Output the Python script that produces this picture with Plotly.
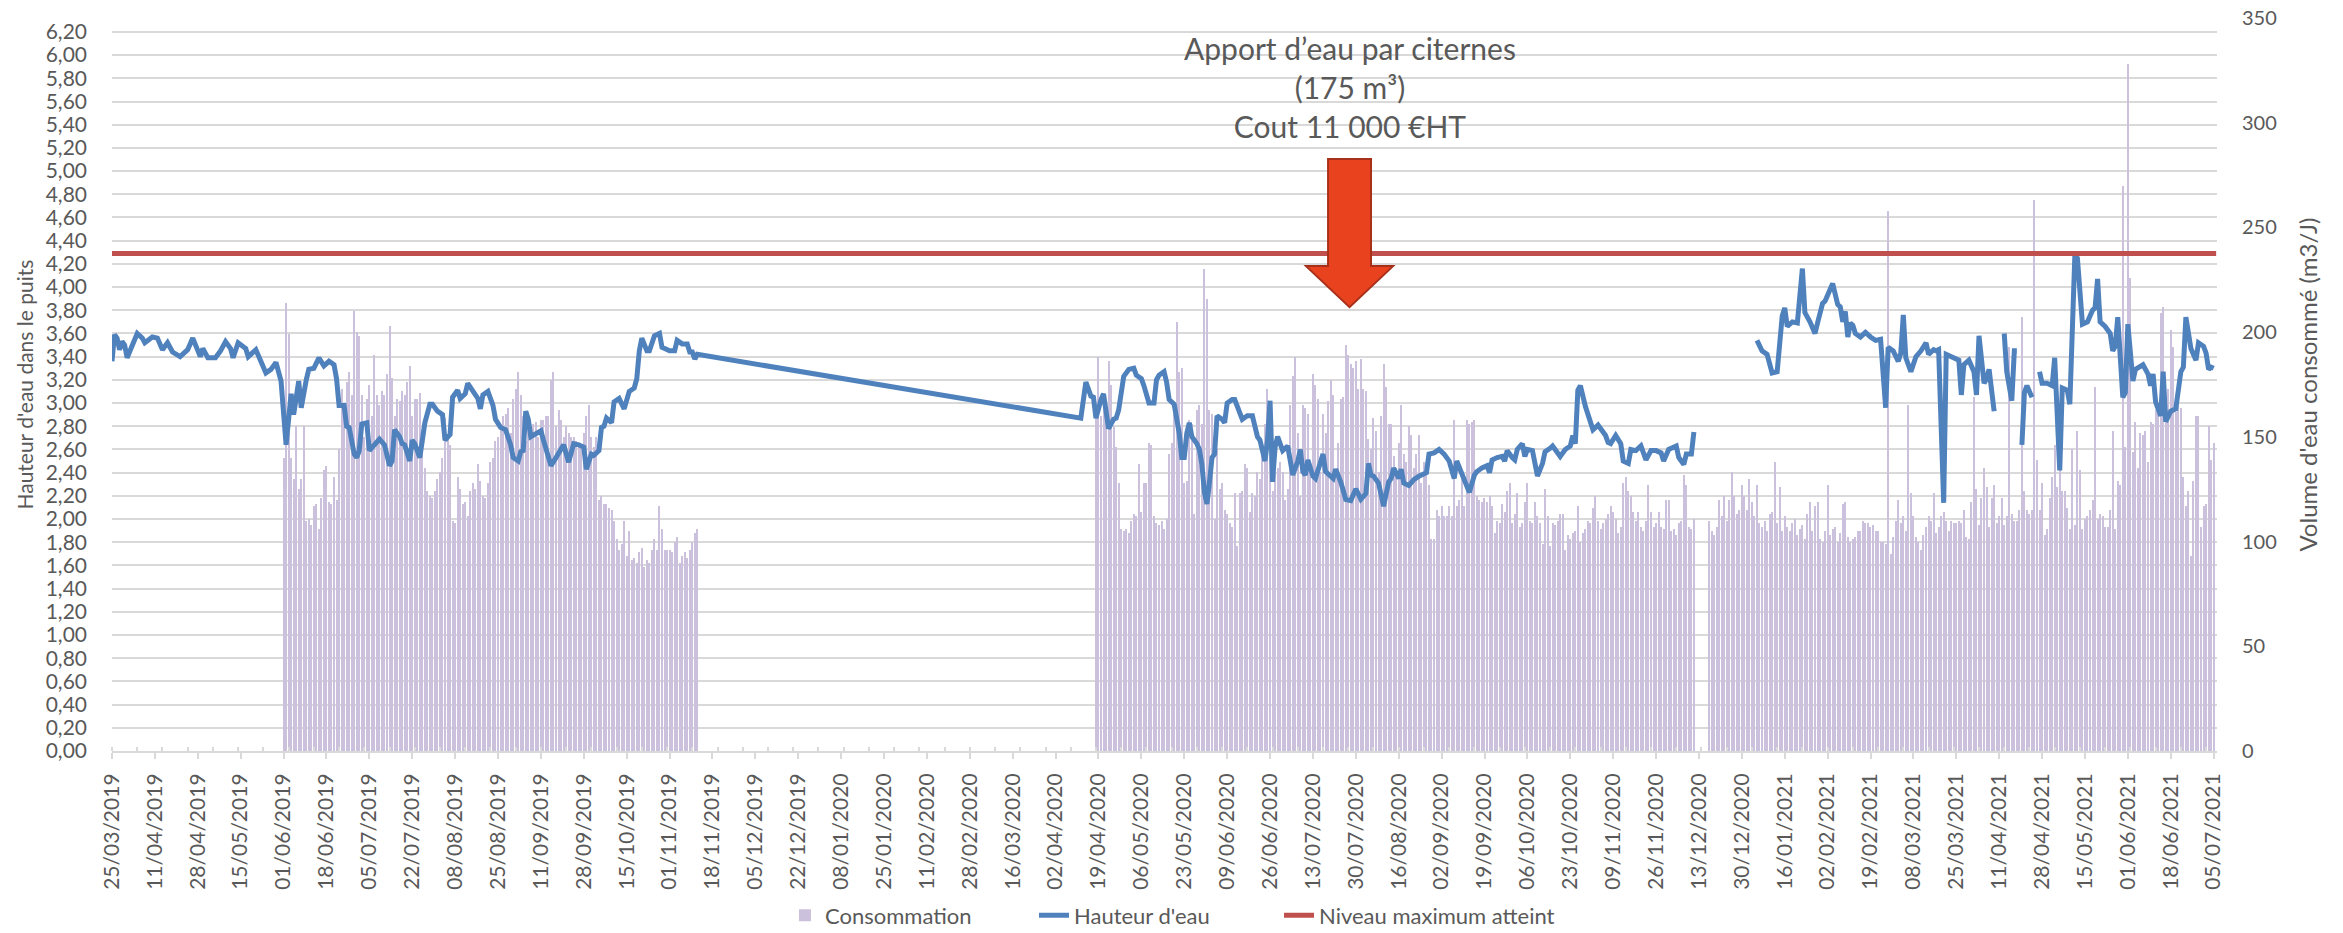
import pandas as pd
import plotly.graph_objects as go

# ---------------- Hauteur d'eau dans le puits (m) ----------------
hauteur_2019_dates = [
    "2019-03-25", "2019-03-26", "2019-03-27", "2019-03-28", "2019-03-29", "2019-03-30", "2019-03-31", "2019-04-02", "2019-04-04", "2019-04-06",
    "2019-04-07", "2019-04-10", "2019-04-12", "2019-04-14", "2019-04-16", "2019-04-18", "2019-04-21", "2019-04-24", "2019-04-26", "2019-04-29",
    "2019-04-30", "2019-05-02", "2019-05-05", "2019-05-07", "2019-05-09", "2019-05-11", "2019-05-12", "2019-05-14", "2019-05-17", "2019-05-18",
    "2019-05-21", "2019-05-23", "2019-05-25", "2019-05-27", "2019-05-29", "2019-05-31", "2019-06-02", "2019-06-04", "2019-06-05", "2019-06-07",
    "2019-06-08", "2019-06-10", "2019-06-11", "2019-06-13", "2019-06-15", "2019-06-17", "2019-06-19", "2019-06-21", "2019-06-22", "2019-06-23",
    "2019-06-25", "2019-06-26", "2019-06-27", "2019-06-29", "2019-06-30", "2019-07-01", "2019-07-02", "2019-07-04", "2019-07-05", "2019-07-07",
    "2019-07-09", "2019-07-11", "2019-07-13", "2019-07-14", "2019-07-15", "2019-07-17", "2019-07-18", "2019-07-19", "2019-07-21", "2019-07-22",
    "2019-07-23", "2019-07-25", "2019-07-27", "2019-07-29", "2019-07-30", "2019-08-01", "2019-08-03", "2019-08-04", "2019-08-06", "2019-08-07",
    "2019-08-09", "2019-08-10", "2019-08-12", "2019-08-13", "2019-08-15", "2019-08-17", "2019-08-18", "2019-08-19", "2019-08-21", "2019-08-23",
    "2019-08-24", "2019-08-26", "2019-08-28", "2019-08-30", "2019-08-31", "2019-09-02", "2019-09-03", "2019-09-04", "2019-09-05", "2019-09-06",
    "2019-09-07", "2019-09-09", "2019-09-11", "2019-09-12", "2019-09-13", "2019-09-15", "2019-09-17", "2019-09-20", "2019-09-22", "2019-09-23",
    "2019-09-24", "2019-09-26", "2019-09-28", "2019-09-29", "2019-10-01", "2019-10-02", "2019-10-04", "2019-10-05", "2019-10-06", "2019-10-07",
    "2019-10-09", "2019-10-10", "2019-10-12", "2019-10-14", "2019-10-16", "2019-10-18", "2019-10-19", "2019-10-20", "2019-10-21", "2019-10-23",
    "2019-10-24", "2019-10-26", "2019-10-28", "2019-10-29", "2019-10-30", "2019-11-01", "2019-11-03", "2019-11-04", "2019-11-06", "2019-11-08",
    "2019-11-09", "2019-11-10", "2019-11-11", "2019-11-12",
]
hauteur_2019_m = [
    3.36, 3.59, 3.56, 3.46, 3.53, 3.50, 3.39, 3.49, 3.60, 3.56,
    3.52, 3.57, 3.56, 3.46, 3.52, 3.44, 3.40, 3.46, 3.56, 3.40,
    3.47, 3.39, 3.39, 3.45, 3.53, 3.47, 3.39, 3.52, 3.47, 3.40,
    3.46, 3.36, 3.26, 3.29, 3.35, 3.19, 2.64, 3.08, 2.90, 3.19,
    2.96, 3.20, 3.29, 3.30, 3.39, 3.32, 3.36, 3.33, 3.21, 2.98,
    2.98, 2.80, 2.79, 2.56, 2.53, 2.59, 2.82, 2.83, 2.59, 2.64,
    2.69, 2.64, 2.46, 2.50, 2.77, 2.71, 2.65, 2.64, 2.50, 2.68,
    2.65, 2.53, 2.83, 2.99, 2.99, 2.93, 2.90, 2.68, 2.73, 3.05,
    3.11, 3.04, 3.08, 3.17, 3.10, 3.04, 2.95, 3.07, 3.10, 2.98,
    2.86, 2.79, 2.77, 2.64, 2.53, 2.50, 2.58, 2.59, 2.93, 2.86,
    2.71, 2.73, 2.76, 2.68, 2.61, 2.46, 2.53, 2.64, 2.49, 2.59,
    2.65, 2.64, 2.62, 2.43, 2.56, 2.55, 2.59, 2.79, 2.80, 2.87,
    2.83, 3.01, 3.04, 2.95, 3.10, 3.13, 3.21, 3.45, 3.56, 3.45,
    3.45, 3.58, 3.60, 3.48, 3.47, 3.45, 3.45, 3.54, 3.51, 3.51,
    3.44, 3.44, 3.38, 3.42,
]

hauteur_2020_dates = [
    "2020-04-12", "2020-04-14", "2020-04-16", "2020-04-17", "2020-04-18", "2020-04-19", "2020-04-20", "2020-04-21", "2020-04-22", "2020-04-23",
    "2020-04-25", "2020-04-26", "2020-04-27", "2020-04-28", "2020-04-29", "2020-05-01", "2020-05-03", "2020-05-04", "2020-05-06", "2020-05-07",
    "2020-05-08", "2020-05-09", "2020-05-11", "2020-05-12", "2020-05-13", "2020-05-15", "2020-05-16", "2020-05-17", "2020-05-19", "2020-05-20",
    "2020-05-21", "2020-05-22", "2020-05-23", "2020-05-24", "2020-05-25", "2020-05-26", "2020-05-28", "2020-05-29", "2020-05-30", "2020-05-31",
    "2020-06-01", "2020-06-02", "2020-06-03", "2020-06-04", "2020-06-05", "2020-06-07", "2020-06-08", "2020-06-09", "2020-06-11", "2020-06-12",
    "2020-06-13", "2020-06-15", "2020-06-17", "2020-06-19", "2020-06-20", "2020-06-21", "2020-06-22", "2020-06-23", "2020-06-24", "2020-06-25",
    "2020-06-26", "2020-06-27", "2020-06-28", "2020-06-29", "2020-07-01", "2020-07-03", "2020-07-04", "2020-07-05", "2020-07-07", "2020-07-08",
    "2020-07-09", "2020-07-10", "2020-07-11", "2020-07-12", "2020-07-13", "2020-07-14", "2020-07-16", "2020-07-17", "2020-07-18", "2020-07-20",
    "2020-07-21", "2020-07-22", "2020-07-24", "2020-07-26", "2020-07-27", "2020-07-28", "2020-07-30", "2020-07-31", "2020-08-01", "2020-08-03",
    "2020-08-04", "2020-08-05", "2020-08-06", "2020-08-08", "2020-08-09", "2020-08-10", "2020-08-12", "2020-08-13", "2020-08-14", "2020-08-16",
    "2020-08-17", "2020-08-18", "2020-08-20", "2020-08-22", "2020-08-24", "2020-08-25", "2020-08-27", "2020-08-28", "2020-08-30", "2020-09-01",
    "2020-09-03", "2020-09-05", "2020-09-06", "2020-09-07", "2020-09-08", "2020-09-09", "2020-09-11", "2020-09-12", "2020-09-13", "2020-09-15",
    "2020-09-16", "2020-09-18", "2020-09-20", "2020-09-21", "2020-09-22", "2020-09-24", "2020-09-26", "2020-09-27", "2020-09-28", "2020-09-30",
    "2020-10-01", "2020-10-02", "2020-10-04", "2020-10-05", "2020-10-06", "2020-10-08", "2020-10-09", "2020-10-10", "2020-10-12", "2020-10-13",
    "2020-10-15", "2020-10-16", "2020-10-19", "2020-10-21", "2020-10-23", "2020-10-24", "2020-10-25", "2020-10-26", "2020-10-27", "2020-10-29",
    "2020-11-01", "2020-11-03", "2020-11-04", "2020-11-06", "2020-11-07", "2020-11-08", "2020-11-10", "2020-11-12", "2020-11-13", "2020-11-15",
    "2020-11-16", "2020-11-18", "2020-11-20", "2020-11-22", "2020-11-24", "2020-11-26", "2020-11-28", "2020-11-29", "2020-12-01", "2020-12-03",
    "2020-12-04", "2020-12-05", "2020-12-07", "2020-12-08", "2020-12-10", "2020-12-11",
]
hauteur_2020_m = [
    2.87, 3.18, 3.06, 3.05, 2.87, 2.97, 3.03, 3.08, 2.96, 2.78,
    2.86, 2.87, 2.94, 3.09, 3.23, 3.29, 3.30, 3.24, 3.21, 3.15,
    3.09, 3.00, 3.00, 3.20, 3.24, 3.27, 3.18, 3.03, 2.99, 2.89,
    2.74, 2.53, 2.53, 2.74, 2.83, 2.71, 2.65, 2.60, 2.47, 2.23,
    2.13, 2.32, 2.53, 2.56, 2.89, 2.86, 2.83, 3.00, 3.03, 3.03,
    2.97, 2.86, 2.89, 2.89, 2.80, 2.71, 2.68, 2.56, 2.50, 2.68,
    3.02, 2.32, 2.62, 2.71, 2.59, 2.63, 2.53, 2.38, 2.50, 2.60,
    2.41, 2.38, 2.51, 2.45, 2.37, 2.35, 2.50, 2.56, 2.41, 2.37,
    2.35, 2.43, 2.32, 2.17, 2.16, 2.16, 2.26, 2.20, 2.17, 2.22,
    2.48, 2.38, 2.37, 2.31, 2.23, 2.11, 2.32, 2.35, 2.44, 2.35,
    2.43, 2.31, 2.29, 2.34, 2.37, 2.38, 2.40, 2.56, 2.57, 2.60,
    2.56, 2.50, 2.44, 2.35, 2.50, 2.44, 2.32, 2.29, 2.23, 2.38,
    2.41, 2.44, 2.46, 2.40, 2.51, 2.53, 2.54, 2.50, 2.59, 2.53,
    2.51, 2.60, 2.65, 2.54, 2.60, 2.59, 2.50, 2.37, 2.48, 2.58,
    2.61, 2.63, 2.54, 2.60, 2.63, 2.72, 2.65, 3.11, 3.15, 2.97,
    2.77, 2.81, 2.78, 2.72, 2.66, 2.65, 2.72, 2.65, 2.50, 2.48,
    2.60, 2.59, 2.63, 2.51, 2.59, 2.59, 2.57, 2.50, 2.60, 2.62,
    2.63, 2.53, 2.47, 2.56, 2.56, 2.75,
]

# None = pas de mesure (interruption de la courbe)
hauteur_2021_dates = [
    "2020-12-20",
    "2021-01-05", "2021-01-07", "2021-01-09", "2021-01-10", "2021-01-11", "2021-01-13", "2021-01-14", "2021-01-15", "2021-01-16", "2021-01-17",
    "2021-01-19", "2021-01-21", "2021-01-23", "2021-01-24", "2021-01-26", "2021-01-28", "2021-01-29", "2021-01-31", "2021-02-01", "2021-02-03",
    "2021-02-04", "2021-02-06", "2021-02-07", "2021-02-08", "2021-02-09", "2021-02-10", "2021-02-11", "2021-02-12", "2021-02-13", "2021-02-15",
    "2021-02-17", "2021-02-19", "2021-02-21", "2021-02-23", "2021-02-25", "2021-02-26", "2021-02-28", "2021-03-02", "2021-03-03", "2021-03-04",
    "2021-03-05", "2021-03-07", "2021-03-09", "2021-03-11", "2021-03-13", "2021-03-14", "2021-03-16", "2021-03-17", "2021-03-18", "2021-03-20",
    "2021-03-21", "2021-03-22", "2021-03-24", "2021-03-26", "2021-03-27", "2021-03-28", "2021-03-30", "2021-04-01", "2021-04-02", "2021-04-03",
    "2021-04-05", "2021-04-06", "2021-04-07", "2021-04-09", "2021-04-10", "2021-04-13", "2021-04-14", "2021-04-16", "2021-04-17", "2021-04-18",
    "2021-04-19", "2021-04-20", "2021-04-21", "2021-04-22", "2021-04-24", "2021-04-25", "2021-04-27", "2021-04-28", "2021-04-30", "2021-05-02",
    "2021-05-03", "2021-05-05", "2021-05-06", "2021-05-08", "2021-05-09", "2021-05-11", "2021-05-12", "2021-05-14", "2021-05-16", "2021-05-18",
    "2021-05-19", "2021-05-20", "2021-05-21", "2021-05-23", "2021-05-25", "2021-05-26", "2021-05-27", "2021-05-28", "2021-05-30", "2021-05-31",
    "2021-06-01", "2021-06-03", "2021-06-04", "2021-06-07", "2021-06-09", "2021-06-10", "2021-06-11", "2021-06-12", "2021-06-14", "2021-06-15",
    "2021-06-16", "2021-06-18", "2021-06-20", "2021-06-22", "2021-06-23", "2021-06-24", "2021-06-26", "2021-06-28", "2021-06-29", "2021-07-01",
    "2021-07-02", "2021-07-03", "2021-07-04", "2021-07-05",
]
hauteur_2021_m = [
    None,
    3.54, 3.45, 3.42, 3.33, 3.26, 3.27, 3.48, 3.75, 3.82, 3.66,
    3.70, 3.69, 4.16, 3.78, 3.70, 3.60, 3.69, 3.86, 3.88, 3.98,
    4.03, 3.85, 3.83, 3.70, 3.79, 3.57, 3.69, 3.67, 3.60, 3.57,
    3.61, 3.57, 3.54, 3.55, 2.96, 3.48, 3.45, 3.36, 3.43, 3.76,
    3.39, 3.27, 3.40, 3.45, 3.52, 3.42, 3.46, 3.45, 3.46, 2.14,
    3.42, 3.41, 3.39, 3.37, 3.07, 3.33, 3.37, 3.27, 3.07, 3.58,
    3.17, 3.21, 3.29, 2.93, None, 3.60, 3.27, 3.02, 3.45, 3.45,
    None, 2.64, 3.09, 3.15, 3.05, None, 3.27, 3.17, 3.17, 3.15,
    3.39, 2.42, 3.13, 3.11, 2.99, 4.28, 4.25, 3.68, 3.70, 3.80,
    3.82, 4.07, 3.70, 3.66, 3.60, 3.45, 3.49, 3.74, 3.05, 3.09,
    3.68, 3.19, 3.29, 3.33, 3.25, 3.15, 3.25, 3.01, 2.89, 3.27,
    2.84, 2.93, 2.95, 3.27, 3.31, 3.74, 3.47, 3.37, 3.52, 3.49,
    3.43, 3.29, 3.31, 3.30,
]

# ---------------- Consommation journaliere (m3/J) ----------------
conso_2019_debut = "2019-06-01"
conso_2019 = [
    140, 214, 199, 140, 130, 155, 125, 130, 155, 110,
    111, 108, 117, 118, 106, 121, 134, 136, 119, 118,
    131, 120, 144, 173, 165, 176, 181, 170, 210, 200,
    198, 170, 150, 168, 175, 160, 189, 170, 165, 172,
    170, 180, 203, 178, 160, 168, 167, 172, 170, 176,
    184, 160, 168, 168, 171, 150, 135, 124, 122, 121,
    124, 130, 133, 140, 159, 150, 146, 110, 109, 131,
    125, 118, 119, 112, 124, 128, 125, 137, 129, 122,
    121, 128, 138, 140, 148, 150, 155, 160, 161, 164,
    152, 168, 173, 181, 170, 160, 148, 155, 150, 156,
    157, 150, 158, 158, 160, 160, 177, 181, 155, 163,
    158, 150, 155, 152, 150, 150, 148, 146, 145, 152,
    160, 165, 150, 145, 150, 120, 122, 118, 118, 116,
    115, 110, 101, 96, 99, 110, 93, 105, 91, 92,
    90, 95, 97, 88, 91, 90, 96, 101, 96, 117,
    106, 96, 96, 96, 95, 100, 102, 90, 93, 95,
    92, 96, 100, 104, 106,
]
conso_2020a_debut = "2020-04-18"
conso_2020a = [
    161, 188, 160, 168, 161, 186, 175, 155, 145, 128,
    106, 105, 106, 104, 110, 113, 112, 137, 114, 128,
    128, 147, 146, 112, 109, 108, 110, 106, 111, 142,
    147, 161, 205, 181, 183, 128, 129, 158, 156, 113,
    163, 165, 156, 230, 216, 163, 161, 111, 144, 125,
    128, 115, 113, 109, 107, 123, 98, 123, 124, 137,
    135, 114, 123, 122, 133, 130, 147, 156, 173, 155,
    124, 133, 135, 138, 133, 120, 125, 165, 179, 188,
    152, 122, 165, 164, 161, 133, 180, 175, 168, 133,
    161, 152, 167, 177, 170, 132, 147, 168, 169, 194,
    189, 185, 183, 186, 173, 187, 173, 172, 149, 144,
    159, 153, 133, 160, 185, 174, 156, 156, 141, 135,
    147, 165, 142, 138, 155, 151, 135, 142, 151, 128,
    138, 135, 127, 101, 101, 115, 112, 117, 112, 112,
    117, 112, 158, 117, 120, 132, 117, 158, 156, 157,
    158, 122, 120, 119, 121, 119, 122, 117, 104, 110,
    109, 118, 114, 124, 128, 109, 113, 123, 107, 109,
    119, 128, 110, 109, 119, 112, 109, 99, 125, 112,
    98,
]
conso_2020b_debut = "2020-10-16"
conso_2020b = [
    109, 108, 110, 113, 113, 96, 103, 101, 104, 105,
    117, 100, 104, 106, 110, 109, 116, 122, 110, 106,
    109, 111, 113, 117, 114, 111, 104, 107, 128, 131,
    124, 122, 114, 110, 114, 107, 105, 110, 127, 114,
    107, 109, 114, 107, 106, 120, 120, 105, 106, 103,
    109, 110, 132, 127, 107, 106, 111,
]
conso_2021a_debut = "2020-12-17"
conso_2021a = [
    110, 105, 103, 107, 120, 112, 122, 110, 120, 133,
    122, 113, 115, 127, 122, 115, 130, 119, 112, 127,
    109, 107, 110, 105, 113, 114, 138, 109, 126, 105,
    112, 107, 105, 109, 111, 103, 106, 108, 101, 113,
    119, 105, 117, 119, 101, 100, 105, 127, 103, 106,
    107, 100, 104, 118, 119, 102, 100, 101, 102, 105,
    105, 110, 109, 109, 107, 108, 105, 105, 100, 100,
    99, 258, 94, 102, 110, 120, 109, 112, 105, 165,
    123, 112, 102, 100, 96, 103, 107, 112, 110, 123,
    104, 107, 112, 114, 110, 105, 110, 109, 109, 110,
    109,
]
conso_2021b_debut = "2021-03-28"
conso_2021b = [
    115, 102, 101, 119, 169, 125, 108, 121, 135, 126,
    107, 121, 127, 109, 112, 121, 108, 112, 193, 113,
    110, 110, 115, 207, 124, 115, 113, 115, 263, 139,
    115, 128, 103, 106, 121, 131, 146, 126, 134, 124,
    124, 116, 106, 144, 108, 153, 134, 106, 111, 112,
    115, 120, 174, 111, 113, 112, 107, 107, 115, 153,
    106, 129, 127, 270, 145, 328, 226, 143, 157, 135,
    152, 151, 153, 138, 157, 156, 163, 164, 209, 212,
    162, 173, 201, 193, 162, 165, 164, 131, 117, 124,
    93, 129, 160, 160, 107, 117, 118, 155, 139, 147,
]

niveau_maximum = 4.29
periode = ["2019-03-25", "2021-07-06"]

annotation_texte = "Apport d\u2019eau par citernes<br>(175 m\u00b3)<br>Cout 11 000 \u20acHT"

# ---------------- assemble ----------------
conso_segments = [
    (conso_2019_debut, conso_2019),
    (conso_2020a_debut, conso_2020a),
    (conso_2020b_debut, conso_2020b),
    (conso_2021a_debut, conso_2021a),
    (conso_2021b_debut, conso_2021b),
]
conso_x, conso_y = [], []
for debut, vals in conso_segments:
    conso_x += list(pd.date_range(debut, periods=len(vals), freq="D"))
    conso_y += vals

hauteur_x = hauteur_2019_dates + hauteur_2020_dates + hauteur_2021_dates
hauteur_y = hauteur_2019_m + hauteur_2020_m + hauteur_2021_m

DAY = 86400000
FONT = "Lato, Carlito, Calibri, 'Open Sans', sans-serif"
GREY = "#595959"
GRID = "#D9D9D9"

fig = go.Figure()
fig.add_trace(go.Bar(
    x=conso_x, y=conso_y, name="Consommation", yaxis="y", legend="legend",
    width=0.42 * DAY, marker=dict(color="#CCC1DC", line=dict(width=0)),
))
fig.add_trace(go.Scatter(
    x=hauteur_x, y=hauteur_y, name="Hauteur d'eau", yaxis="y2", mode="lines",
    legend="legend2", line=dict(color="#4F81BD", width=5), connectgaps=False,
))
fig.add_trace(go.Scatter(
    x=periode, y=[niveau_maximum, niveau_maximum], name="Niveau maximum atteint",
    yaxis="y2", mode="lines", legend="legend3", line=dict(color="#C0504D", width=5),
))

# arrow (paper coordinates)
fig.add_shape(
    type="path", xref="paper", yref="paper",
    path="M 0.5777 0.8075 L 0.5981 0.8075 L 0.5981 0.6615 L 0.6086 0.6615 "
         "L 0.5879 0.6055 L 0.5672 0.6615 L 0.5777 0.6615 Z",
    fillcolor="#E8431E", line=dict(color="#A8301A", width=2), layer="above",
)
fig.add_annotation(
    x=0.5879, y=0.9058, xref="paper", yref="paper", text=annotation_texte,
    showarrow=False, xanchor="center", yanchor="middle", align="center",
    font=dict(family=FONT, size=30, color=GREY),
)
fig.add_annotation(
    x=-0.0418, y=0.5, xref="paper", yref="paper", text="Hauteur d'eau dans le puits",
    textangle=-90, showarrow=False, xanchor="center", yanchor="middle",
    font=dict(family=FONT, size=21, color=GREY),
)
fig.add_annotation(
    x=1.0428, y=0.5, xref="paper", yref="paper", text="Volume d'eau consommé (m3/J)",
    textangle=-90, showarrow=False, xanchor="center", yanchor="middle",
    font=dict(family=FONT, size=24, color=GREY),
)

legend_style = dict(orientation="h", xanchor="left", y=-0.2242, yanchor="middle",
                    font=dict(size=22, color=GREY), bgcolor="rgba(0,0,0,0)")

fig.update_layout(
    width=2343, height=933,
    margin=dict(l=112, r=126, t=18, b=182, pad=0, autoexpand=False),
    paper_bgcolor="white", plot_bgcolor="white",
    font=dict(family=FONT, color=GREY, size=21),
    separators=", ",
    bargap=0,
    showlegend=True,
    legend=dict(x=0.3197, **legend_style),
    legend2=dict(x=0.4380, **legend_style),
    legend3=dict(x=0.5544, **legend_style),
    xaxis=dict(
        type="date", range=["2019-03-25", "2021-07-06 08:00"], automargin=False,
        tick0="2019-03-25", dtick=17 * DAY, tickformat="%d/%m/%Y", tickangle=-90,
        ticks="outside", ticklen=6, tickwidth=2, tickcolor=GRID,
        showline=True, linecolor=GRID, linewidth=2, showgrid=False, zeroline=False,
        tickfont=dict(size=21, color=GREY), ticklabelstandoff=6,
        minor=dict(tick0="2019-03-25", dtick=10 * DAY, ticks="inside", ticklen=4,
                   tickwidth=2, tickcolor=GRID, showgrid=False),
    ),
    yaxis=dict(
        side="right", range=[0, 350], dtick=50, showgrid=False, zeroline=False, automargin=False,
        showline=False, ticks="", tickfont=dict(size=20, color=GREY), ticklabelstandoff=24,
    ),
    yaxis2=dict(
        overlaying="y", side="left", range=[0, 6.32], dtick=0.2, tickformat=".2f", automargin=False,
        showgrid=True, gridcolor=GRID, gridwidth=2, zeroline=False, showline=False,
        ticks="", tickfont=dict(size=21, color=GREY), ticklabelstandoff=24,
    ),
)

fig.write_html("out.html", config={"displayModeBar": False},
               post_script="document.body.style.margin='0px';")
